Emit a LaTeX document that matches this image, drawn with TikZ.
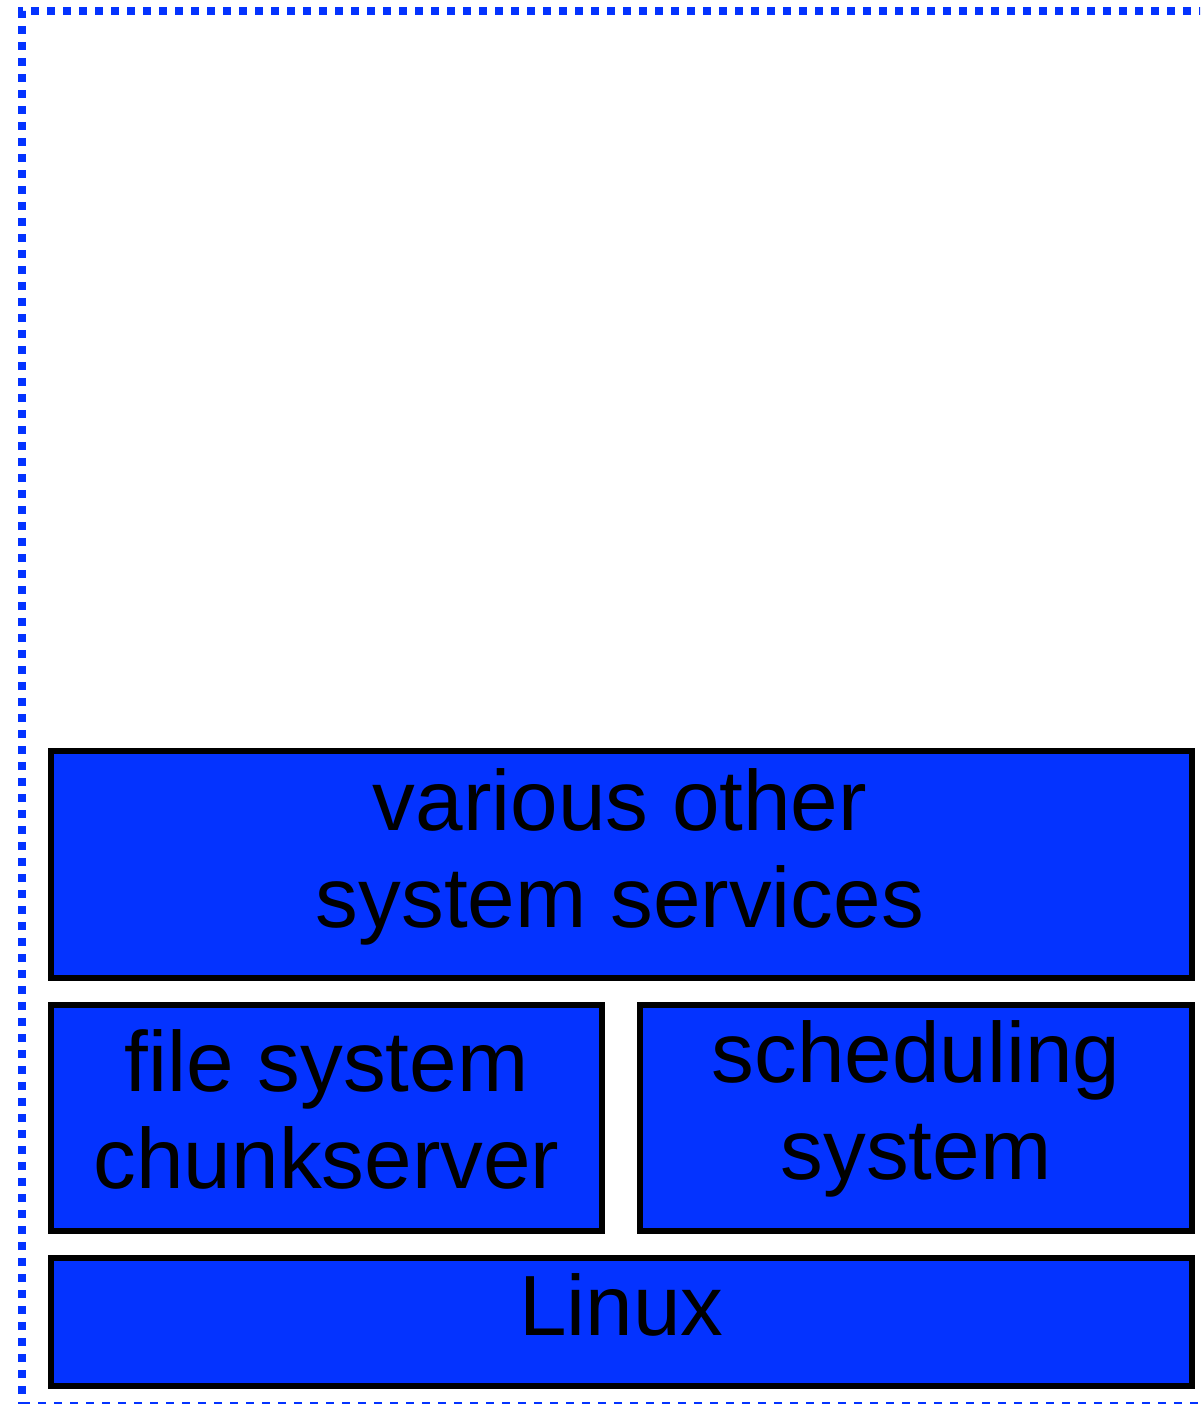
\documentclass[tikz,border=0pt]{standalone}
\usepackage{fontspec}
\setmainfont{Liberation Sans}
\definecolor{layerblue}{RGB}{4,51,255}
\begin{document}
\begin{tikzpicture}[x=1pt,y=-1pt,
  layer/.style={draw=black, line width=6pt, fill=layerblue},
  label/.style={font=\fontsize{85.5}{97}\selectfont, align=center, inner sep=0pt},
  frame/.style={draw=layerblue, line width=8pt, dash pattern=on 8pt off 8pt}]
  \useasboundingbox (0,0) rectangle (1200,1404);
  \begin{scope}
    \clip (0,0) rectangle (1200,1404);
    \draw[frame] (22,1410) -- (22,11) -- (1210,11);
    \draw[draw=layerblue, line width=2pt, dash pattern=on 8pt off 8pt] (22,1403) -- (1210,1403);
  \end{scope}
  % layered stack
  \draw[layer] (51,751) rectangle (1192,978);
  \draw[layer] (51,1005) rectangle (602,1231);
  \draw[layer] (640,1005) rectangle (1192,1231);
  \draw[layer] (51,1258) rectangle (1192,1386);
  \node[label] (services) at (620,857) {various other\\system services};
  \node[label] (fs) at (326.5,1109) {file system\\chunkserver};
  \node[label] (sched) at (916,1109) {scheduling\\system};
  \node[label] (linux) at (621.5,1305) {Linux};
\end{tikzpicture}
\end{document}
